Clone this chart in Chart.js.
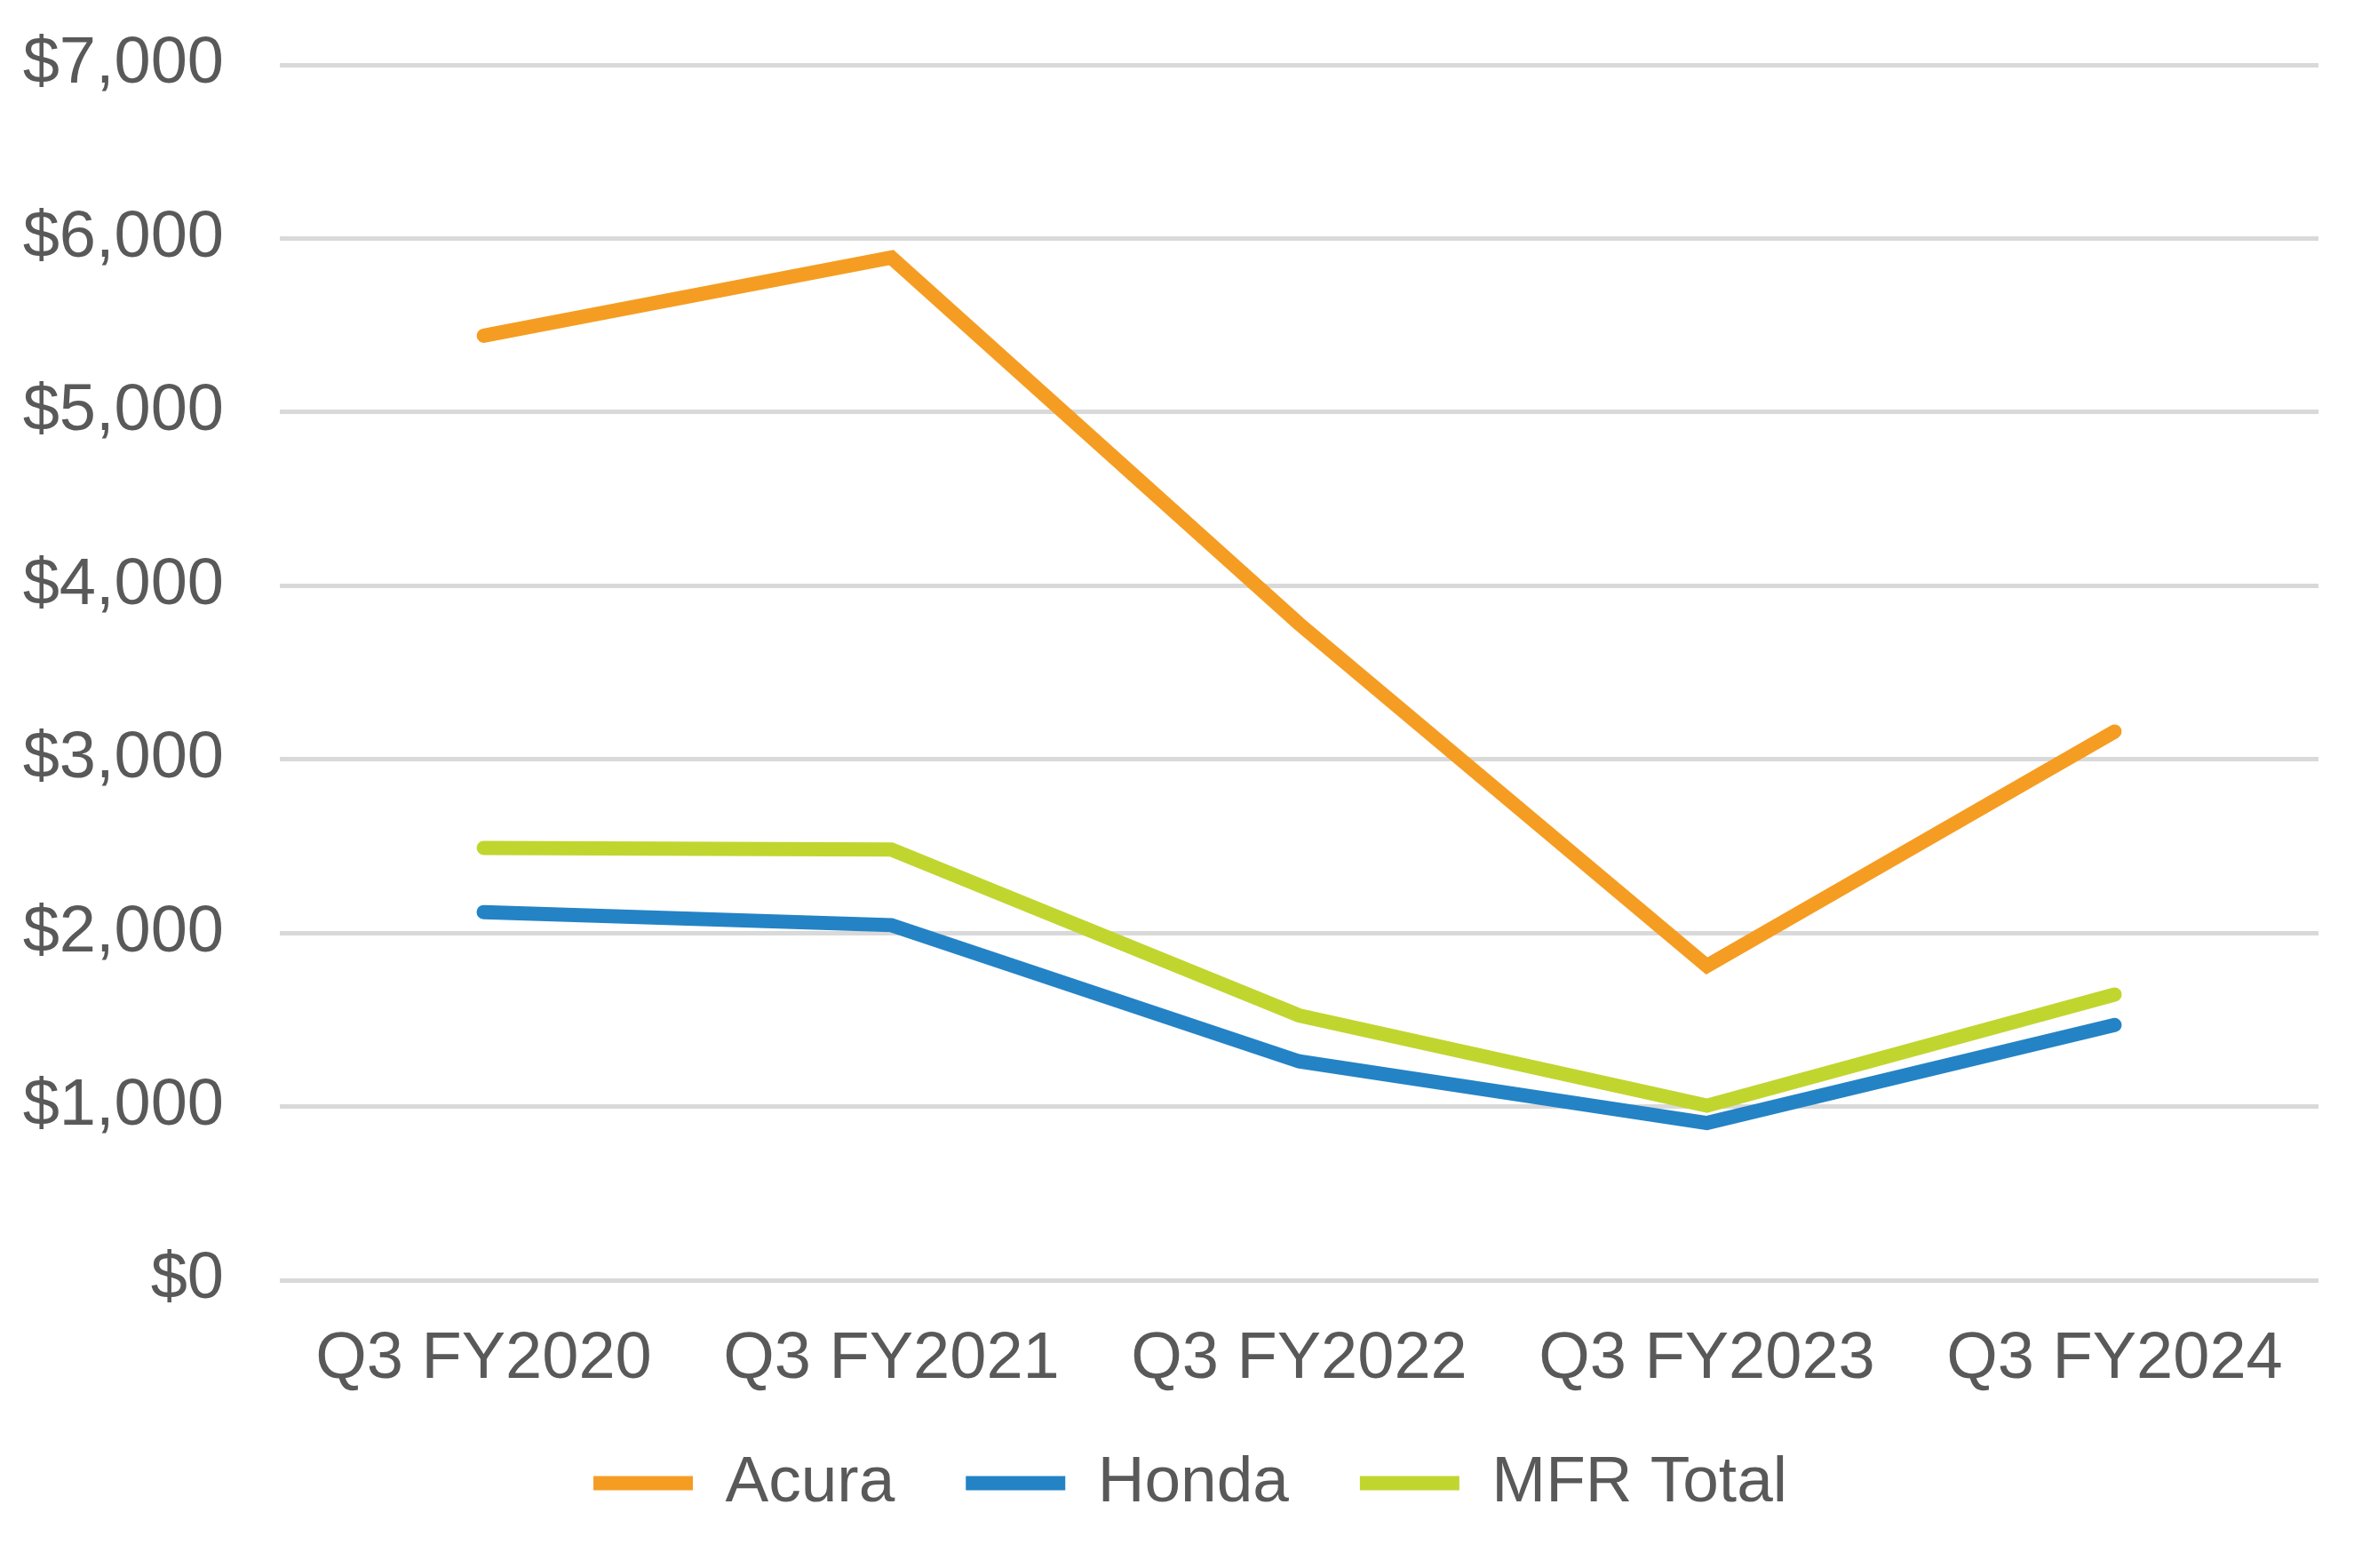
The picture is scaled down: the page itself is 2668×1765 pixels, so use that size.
<!DOCTYPE html>
<html>
<head>
<meta charset="utf-8">
<script src="https://cdn.jsdelivr.net/npm/chart.js@4/dist/chart.umd.min.js"></script>
<style>
  html, body { margin: 0; padding: 0; background: #ffffff; }
  #wrap { width: 2668px; height: 1765px; }
</style>
</head>
<body>
<div id="wrap"><canvas id="c" width="2668" height="1765"></canvas></div>
<script>
const categories = ['Q3 FY2020', 'Q3 FY2021', 'Q3 FY2022', 'Q3 FY2023', 'Q3 FY2024'];
const acura = [5440, 5890, 3780, 1810, 3160];
const honda = [2120, 2045, 1260, 905, 1470];
const mfrTotal = [2490, 2480, 1525, 1005, 1645];
const yTicks = [0, 1000, 2000, 3000, 4000, 5000, 6000, 7000];

const FONT = "'Liberation Sans', Arial, sans-serif";
const TEXT = '#595959';

function ds(label, data, color) {
  return {
    label, data,
    borderColor: color, backgroundColor: color,
    borderWidth: 16, pointRadius: 0, pointHoverRadius: 0,
    tension: 0, borderCapStyle: 'round', borderJoinStyle: 'miter', fill: false
  };
}

// nudge the legend block to where the reference places it
const legendShift = {
  id: 'legendShift',
  afterLayout(chart) {
    const l = chart.legend;
    if (!l) return;
    const dx = 35, dy = -28;
    l.left += dx; l.right += dx;
    l.top += dy; l.bottom += dy;
  }
};

new Chart(document.getElementById('c'), {
  type: 'line',
  data: {
    labels: categories,
    datasets: [
      ds('Acura', acura, '#F59D22'),
      ds('Honda', honda, '#2483C5'),
      ds('MFR Total', mfrTotal, '#C1D52F')
    ]
  },
  plugins: [legendShift],
  options: {
    responsive: false,
    devicePixelRatio: 1,
    animation: false,
    layout: { padding: { top: 73, left: 0, right: 58, bottom: 21 } },
    plugins: {
      tooltip: { enabled: false },
      legend: {
        position: 'bottom',
        align: 'center',
        labels: {
          usePointStyle: true,
          pointStyle: 'line',
          pointStyleWidth: 112,
          padding: 80,
          color: TEXT,
          font: { family: FONT, size: 73 }
        }
      }
    },
    scales: {
      x: {
        offset: true,
        grid: { display: false, drawTicks: false },
        border: { display: false },
        ticks: { color: TEXT, font: { family: FONT, size: 74 }, padding: 45, maxRotation: 0, autoSkip: false },
        afterFit: (s) => { s.height = 140; }
      },
      y: {
        min: 0, max: 7000,
        afterBuildTicks: (s) => { s.ticks = yTicks.map(v => ({ value: v })); },
        grid: { color: '#D9D9D9', lineWidth: 5, drawTicks: false },
        border: { display: false },
        ticks: {
          color: TEXT, font: { family: FONT, size: 74 }, padding: 63,
          callback: (v) => '$' + Number(v).toLocaleString('en-US')
        },
        afterFit: (s) => { s.width = 315; s.paddingTop = 0; s.paddingBottom = 0; }
      }
    }
  }
});
</script>
</body>
</html>
